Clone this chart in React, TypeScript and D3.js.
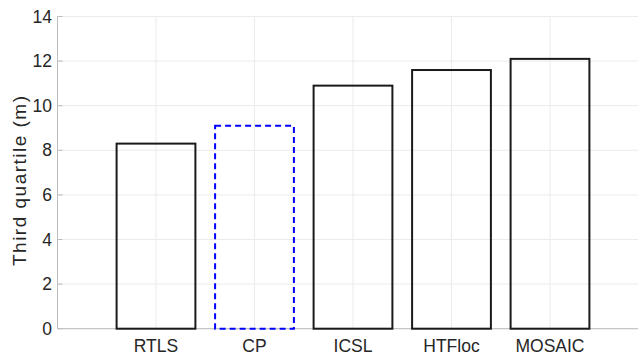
import React, { useRef, useEffect } from 'react';
import * as d3 from 'd3';

const categories = ['RTLS', 'CP', 'ICSL', 'HTFloc', 'MOSAIC'];
const values = [8.3, 9.1, 10.9, 11.6, 12.1];
const dashed = [false, true, false, false, false];
const yTicks = [0, 2, 4, 6, 8, 10, 12, 14];

const App = () => {
  const svgRef = useRef<SVGSVGElement>(null);
  const width = 638;
  const height = 356;
  const margin = { top: 16.5, bottom: 27.3, left: 57.5 };

  useEffect(() => {
    const svg = d3.select(svgRef.current);
    svg.selectAll('*').remove();

    // MATLAB-style: categories at 1..5, xlim [0, 6]
    const step = 98.5;
    const x = d3.scaleLinear()
      .domain([0, 6])
      .range([margin.left, margin.left + step * 6]);
    const y = d3.scaleLinear()
      .domain([0, 14])
      .range([height - margin.bottom, margin.top]);

    const font = '"Liberation Sans", Arial, Helvetica, sans-serif';

    // Grid lines
    svg.append('g')
      .selectAll('line')
      .data(yTicks)
      .join('line')
      .attr('x1', x(0))
      .attr('x2', x(6))
      .attr('y1', d => y(d))
      .attr('y2', d => y(d))
      .attr('stroke', '#ebebeb')
      .attr('stroke-width', 1);

    svg.append('g')
      .selectAll('line')
      .data(categories.map((_, i) => i + 1))
      .join('line')
      .attr('x1', d => x(d))
      .attr('x2', d => x(d))
      .attr('y1', y(0))
      .attr('y2', y(14))
      .attr('stroke', '#ebebeb')
      .attr('stroke-width', 1);

    // Axis lines
    svg.append('line')
      .attr('x1', x(0)).attr('x2', x(0))
      .attr('y1', y(0)).attr('y2', y(14))
      .attr('stroke', '#bdbdbd');
    svg.append('line')
      .attr('x1', x(0)).attr('x2', x(6))
      .attr('y1', y(0)).attr('y2', y(0))
      .attr('stroke', '#bdbdbd');

    // Y tick marks
    svg.append('g')
      .selectAll('line')
      .data(yTicks)
      .join('line')
      .attr('x1', x(0))
      .attr('x2', x(0) + 5)
      .attr('y1', d => y(d))
      .attr('y2', d => y(d))
      .attr('stroke', '#bdbdbd');

    // Bars
    const bw = 0.8;
    svg.append('g')
      .selectAll('rect')
      .data(values)
      .join('rect')
      .attr('x', (d, i) => x(i + 1 - bw / 2))
      .attr('y', d => y(d))
      .attr('width', x(bw) - x(0))
      .attr('height', d => y(0) - y(d))
      .attr('fill', 'none')
      .attr('stroke', (d, i) => (dashed[i] ? '#0000ff' : '#1a1a1a'))
      .attr('stroke-width', 2)
      .attr('stroke-dasharray', (d, i) => (dashed[i] ? '6,4' : null));

    // Y tick labels
    svg.append('g')
      .selectAll('text')
      .data(yTicks)
      .join('text')
      .attr('x', x(0) - 5.5)
      .attr('y', d => y(d))
      .attr('text-anchor', 'end')
      .attr('dominant-baseline', 'central')
      .attr('font-family', font)
      .attr('font-size', '17.5px')
      .attr('fill', '#262626')
      .text(d => d);

    // X tick labels
    svg.append('g')
      .selectAll('text')
      .data(categories)
      .join('text')
      .attr('x', (d, i) => x(i + 1))
      .attr('y', y(0) + 23)
      .attr('text-anchor', 'middle')
      .attr('font-family', font)
      .attr('font-size', '17.5px')
      .attr('fill', '#262626')
      .text(d => d);

    // Y axis label
    svg.append('text')
      .attr('transform', 'translate(25.5, 181) rotate(-90)')
      .attr('text-anchor', 'middle')
      .attr('font-family', font)
      .attr('font-size', '19px')
      .attr('textLength', 170)
      .attr('lengthAdjust', 'spacing')
      .attr('fill', '#262626')
      .text('Third quartile (m)');
  }, []);

  return (
    <svg
      ref={svgRef}
      width={width}
      height={height}
      style={{ position: 'absolute', left: 0, top: 0, background: '#fff' }}
    />
  );
};

export default App;
